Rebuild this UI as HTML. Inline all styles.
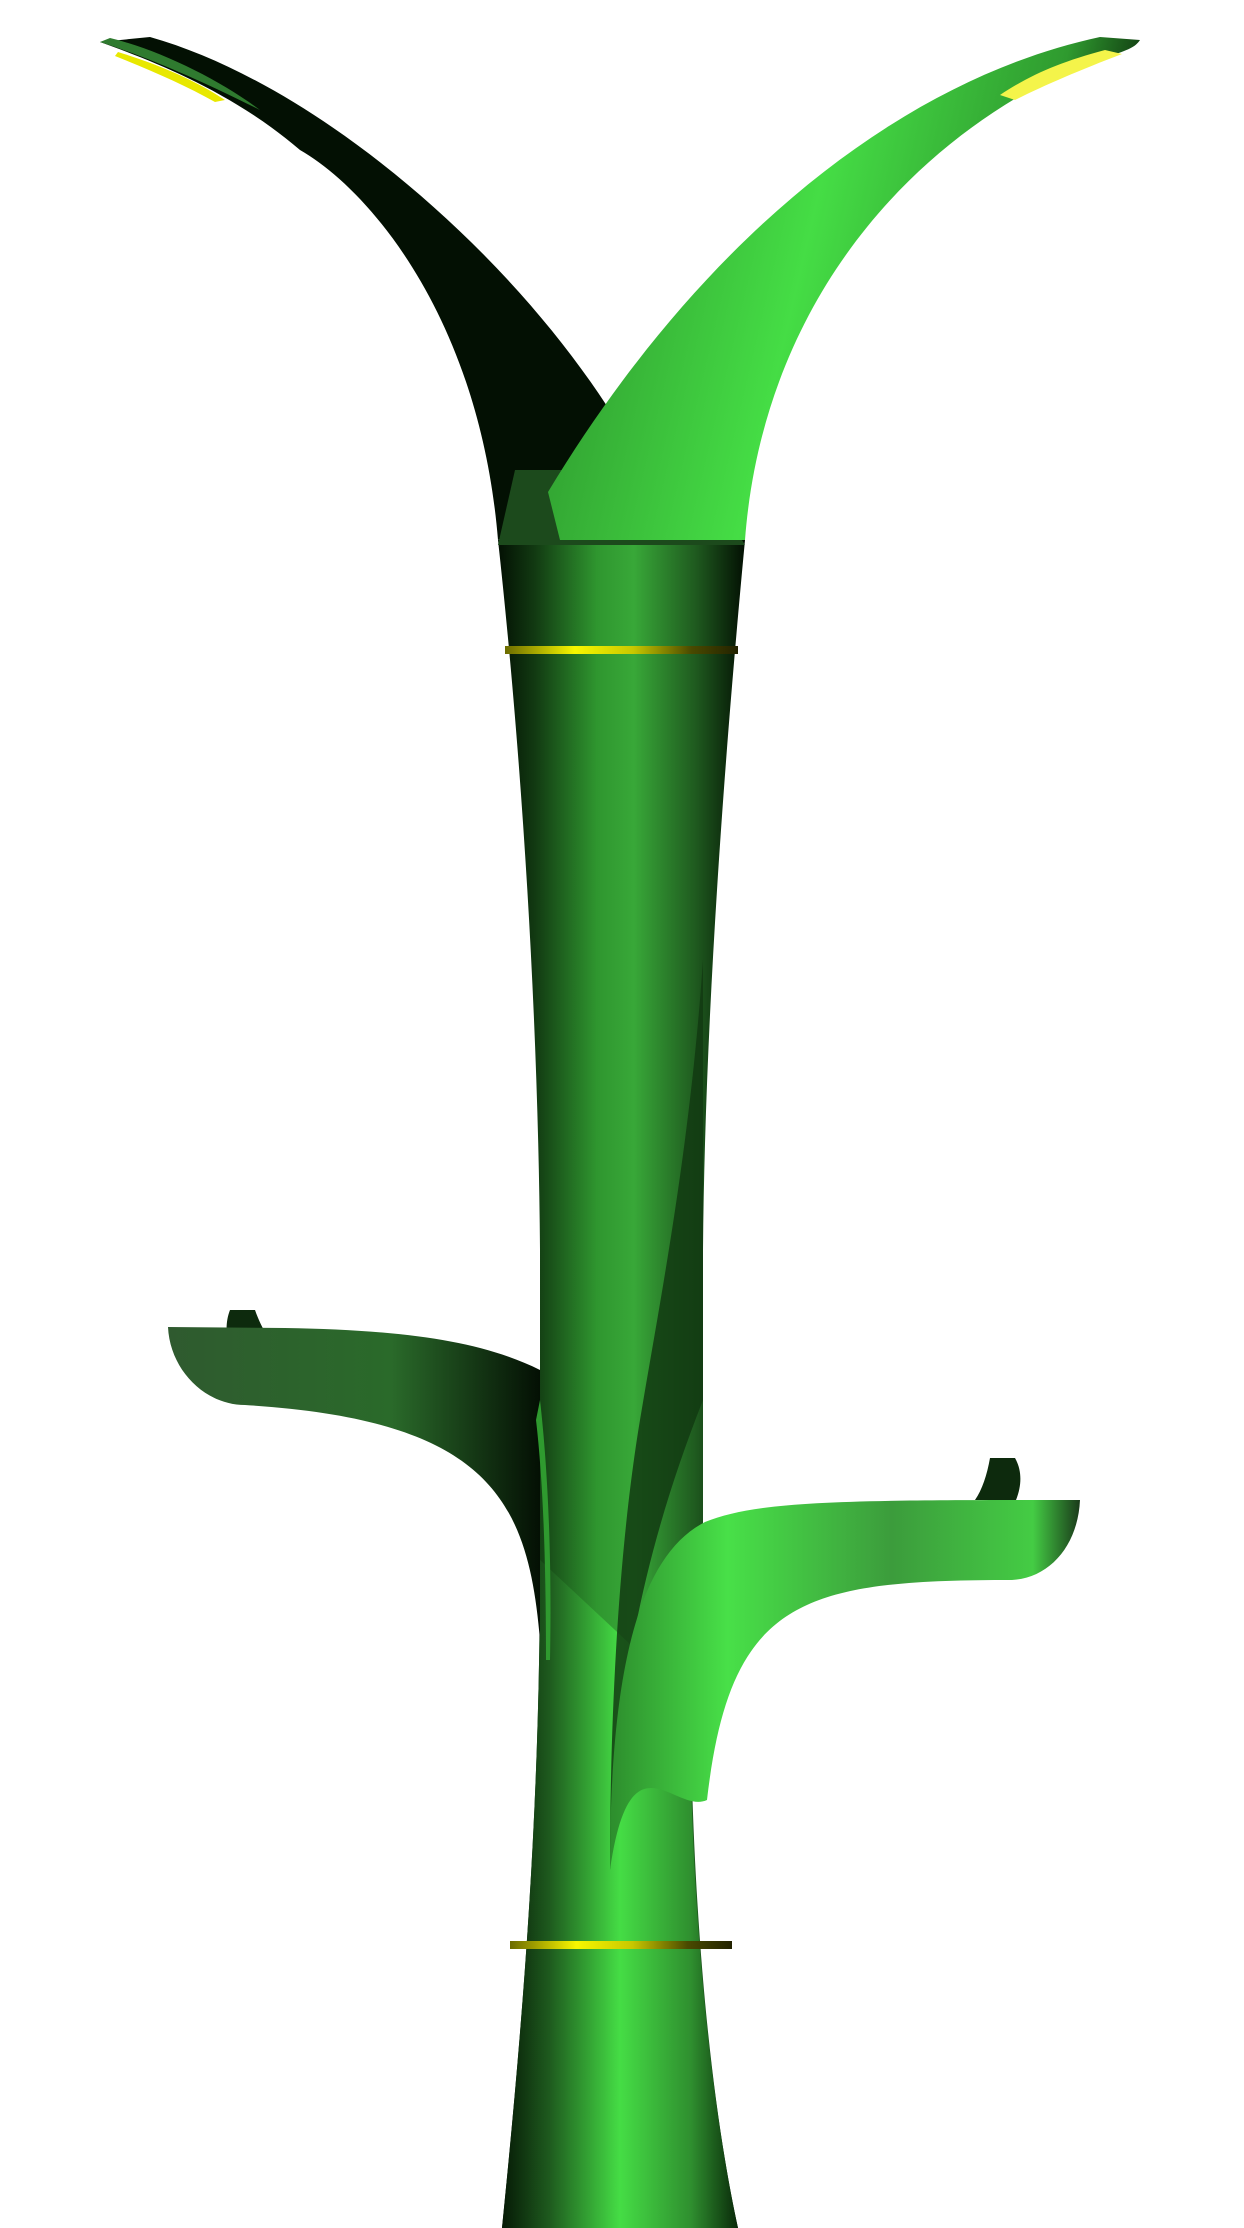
<!DOCTYPE html>
<html><head><meta charset="utf-8"><title>Coat rack</title>
<style>html,body{margin:0;padding:0;background:#fff;}svg{display:block;}</style></head>
<body>
<svg width="1244" height="2228" viewBox="0 0 1244 2228" xmlns="http://www.w3.org/2000/svg">
<defs>
<linearGradient id="trunk" x1="0" x2="1" y1="0" y2="0">
<stop offset="0" stop-color="#031003"/><stop offset="0.15" stop-color="#123a12"/>
<stop offset="0.4" stop-color="#2f962f"/><stop offset="0.55" stop-color="#38a838"/>
<stop offset="0.8" stop-color="#1f5a1f"/><stop offset="1" stop-color="#031003"/></linearGradient>
<linearGradient id="trunkLow" x1="0" x2="1"><stop offset="0" stop-color="#061a06"/><stop offset="0.2" stop-color="#1e5a1e"/>
<stop offset="0.5" stop-color="#45dd45"/><stop offset="0.8" stop-color="#2f8f2f"/><stop offset="1" stop-color="#0a2a0a"/></linearGradient>
<linearGradient id="hornR" x1="0" x2="1" y1="0" y2="0.2"><stop offset="0" stop-color="#2a8a2a"/><stop offset="0.5" stop-color="#45dd45"/><stop offset="0.85" stop-color="#2f9a2f"/><stop offset="1" stop-color="#0c2a0c"/></linearGradient>
<linearGradient id="gold" x1="0" x2="1"><stop offset="0" stop-color="#6b6b00"/><stop offset="0.3" stop-color="#f7f700"/><stop offset="0.55" stop-color="#c8c800"/><stop offset="0.8" stop-color="#4a4a00"/><stop offset="1" stop-color="#222200"/></linearGradient>
<linearGradient id="armL" x1="0" x2="1"><stop offset="0" stop-color="#2f5a2f"/><stop offset="0.6" stop-color="#2a6a2a"/><stop offset="1" stop-color="#041004"/></linearGradient>
<linearGradient id="armR" x1="0" x2="1"><stop offset="0" stop-color="#2d8d2d"/><stop offset="0.25" stop-color="#48e048"/><stop offset="0.6" stop-color="#3c9c3c"/><stop offset="0.9" stop-color="#44cc44"/><stop offset="1" stop-color="#1a3a1a"/></linearGradient>
</defs>
<g>
<path d="M498,540 L745,540 C728,720 705,1000 703,1250 L703,1560 L690,1650 C690,1900 710,2100 738,2228 L502,2228 C525,2000 540,1800 540,1560 L540,1250 C538,1000 520,740 498,540 Z" fill="url(#trunk)"/>
<path d="M540,1560 C540,1800 525,2000 502,2228 L738,2228 C710,2100 690,1900 690,1700 L540,1560 Z" fill="url(#trunkLow)"/>
<path d="M703,960 C690,1150 660,1300 640,1420 C620,1540 610,1700 610,1870 C615,1700 640,1560 703,1400 Z" fill="#123a12" opacity="0.85"/>
</g>
<path d="M100,42 L150,37 C320,85 520,260 622,430 L605,480 L560,520 L498,540 C480,320 370,190 300,150 C230,90 150,60 100,42 Z" fill="#031003"/>
<path d="M100,42 L110,38 C160,50 220,80 260,110 C200,80 150,58 100,42 Z" fill="#2f7a2f"/>
<path d="M515,470 L700,470 L745,545 L498,545 Z" fill="#1c4a1c"/>
<path d="M1140,40 C1130,55 1110,50 1030,90 C870,180 760,340 745,540 L560,540 L548,492 C700,240 900,80 1100,37 Z" fill="url(#hornR)"/>
<path d="M118,52 C160,65 195,80 225,100 L215,102 C185,85 150,70 115,56 Z" fill="#e8e800"/>
<path d="M1105,50 C1060,62 1030,75 1000,95 L1015,100 C1045,85 1080,70 1122,54 Z" fill="#f4f44a"/>
<rect x="505" y="646" width="233" height="8" fill="url(#gold)"/>
<rect x="510" y="1941" width="222" height="8" fill="url(#gold)"/>
<g>
<path d="M230,1310 L255,1310 C262,1330 272,1345 285,1358 L235,1360 C226,1345 224,1325 230,1310 Z" fill="#0d2a0d"/>
<path d="M168,1327 L285,1328 C400,1330 480,1340 540,1370 L540,1640 C528,1500 490,1420 245,1405 C205,1405 170,1370 168,1327 Z" fill="url(#armL)"/>
<path d="M540,1400 C548,1470 552,1560 550,1660 L546,1660 C546,1560 543,1480 536,1420 Z" fill="#2f9a2f"/>
</g>
<g>
<path d="M990,1458 L1015,1458 C1022,1470 1022,1485 1016,1500 L975,1500 C982,1490 987,1475 990,1458 Z" fill="#0d2a0d"/>
<path d="M1080,1500 C1078,1545 1050,1578 1012,1580 C800,1580 730,1600 707,1800 C675,1815 630,1730 610,1870 C610,1700 630,1560 705,1522 C760,1500 850,1500 1080,1500 Z" fill="url(#armR)"/>
</g>
</svg>
</body></html>
